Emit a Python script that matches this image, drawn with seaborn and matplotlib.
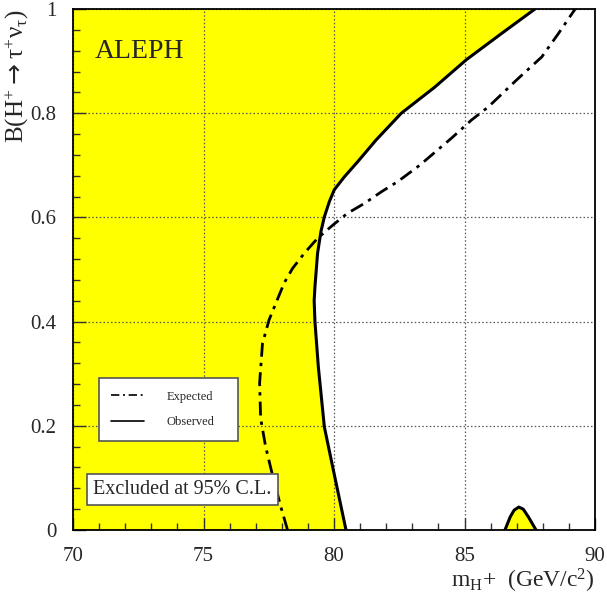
import numpy as np
import pandas as pd
import matplotlib
matplotlib.use("Agg")
import matplotlib.pyplot as plt
import seaborn as sns
from matplotlib.ticker import MultipleLocator, FixedLocator, FixedFormatter

# ---- data ----
obs_mass = [80.46, 80.27, 79.95, 79.63, 79.40, 79.27, 79.24, 79.27, 79.37, 79.50,
            79.63, 79.82, 80.01, 80.40, 80.91, 81.62, 82.58, 83.86, 85.08, 86.42, 87.70]
obs_br = [0.000, 0.045, 0.121, 0.198, 0.313, 0.400, 0.440, 0.467, 0.531, 0.573,
          0.601, 0.630, 0.653, 0.678, 0.707, 0.749, 0.800, 0.850, 0.903, 0.953, 1.000]

exp_mass = [78.22, 77.96, 77.64, 77.38, 77.19, 77.15, 77.26, 77.51, 77.77, 78.09,
            78.41, 78.86, 79.37, 79.95, 80.52, 81.17, 81.81, 82.45, 83.28, 84.50,
            85.27, 85.91, 87.00, 87.96, 88.60, 89.24]
exp_br = [0.000, 0.045, 0.106, 0.160, 0.214, 0.282, 0.358, 0.403, 0.435, 0.474,
          0.502, 0.531, 0.560, 0.585, 0.608, 0.627, 0.649, 0.669, 0.700, 0.752,
          0.787, 0.812, 0.864, 0.908, 0.953, 1.000]

island_mass = [86.55, 86.75, 86.90, 87.08, 87.25, 87.45, 87.74]
island_br = [0.000, 0.025, 0.038, 0.044, 0.040, 0.025, 0.000]

x_ticks = [70, 75, 80, 85, 90]
x_tick_labels = ["70", "75", "80", "85", "90"]
y_ticks = [0, 0.2, 0.4, 0.6, 0.8, 1.0]
y_tick_labels = ["0", "0.2", "0.4", "0.6", "0.8", "1"]

obs_df = pd.DataFrame({"mass": obs_mass, "br": obs_br})
exp_df = pd.DataFrame({"mass": exp_mass, "br": exp_br})
isl_df = pd.DataFrame({"mass": island_mass, "br": island_br})

# ---- style ----
sns.set_style("ticks")
plt.rcParams["font.family"] = ["Liberation Serif", "DejaVu Serif"]
plt.rcParams["mathtext.fontset"] = "custom"
plt.rcParams["mathtext.rm"] = "Liberation Serif"
plt.rcParams["mathtext.it"] = "Liberation Serif:italic"
plt.rcParams["mathtext.bf"] = "Liberation Serif:bold"
plt.rcParams["mathtext.sf"] = "DejaVu Sans"

YELLOW = "#FFFF00"

fig = plt.figure(figsize=(6.07, 5.97), dpi=100)
ax = fig.add_axes([73 / 607, 1 - 530 / 597, 522 / 607, 521 / 597])

# excluded regions
ax.fill_betweenx(obs_df["br"], 70, obs_df["mass"], color=YELLOW, lw=0, zorder=1)
ax.fill_between(isl_df["mass"], 0, isl_df["br"], color=YELLOW, lw=0, zorder=1)

# curves
sns.lineplot(data=exp_df, x="mass", y="br", sort=False, estimator=None, ax=ax,
             color="black", lw=2.0, linestyle=(0, (5, 2.2, 1.2, 2.2)),
             label="Expected", zorder=3)
sns.lineplot(data=obs_df, x="mass", y="br", sort=False, estimator=None, ax=ax,
             color="black", lw=2.2, label="Observed", zorder=3)
sns.lineplot(data=isl_df, x="mass", y="br", sort=False, estimator=None, ax=ax,
             color="black", lw=2.2, zorder=3)

ax.set_xlim(70, 90)
ax.set_ylim(0, 1)

ax.xaxis.set_major_locator(FixedLocator(x_ticks))
ax.xaxis.set_major_formatter(FixedFormatter(x_tick_labels))
ax.yaxis.set_major_locator(FixedLocator(y_ticks))
ax.yaxis.set_major_formatter(FixedFormatter(y_tick_labels))
ax.xaxis.set_minor_locator(MultipleLocator(1))
ax.yaxis.set_minor_locator(MultipleLocator(0.04))
ax.tick_params(which="both", direction="in", top=False, right=False,
               labelsize=15, width=1.0, color="#333333")
ax.tick_params(which="major", length=9, pad=12)
ax.tick_params(which="minor", length=5)

for s in ax.spines.values():
    s.set_linewidth(1.3)
    s.set_color("black")
    s.set_zorder(4)

ax.set_axisbelow(False)
ax.grid(True, which="major", color="#555555", linestyle=(0, (1.2, 1.8)), lw=0.9)

ax.set_xlabel(r"m$_{\mathrm{H}}$+  (GeV/c$^{2}$)", fontsize=17, loc="right", labelpad=1)
ax.set_ylabel(r"B(H$^{+}\;\mathsf{→}\;$τ$^{+}$ν$_{\mathrm{τ}}$)", fontsize=18, loc="top")
ax.yaxis.set_label_coords(-0.08, 1.0)

ax.text(0.042, 0.919, "ALEPH", transform=ax.transAxes, fontsize=20,
        ha="left", va="center", zorder=5)

ax.text(0.21, 0.077, "Excluded at 95% C.L.", transform=ax.transAxes, fontsize=14.5,
        ha="center", va="center", zorder=5,
        bbox=dict(boxstyle="square,pad=0.3", fc="white", ec="#555555", lw=1.2))

leg = ax.legend(loc="lower left", bbox_to_anchor=(0.0498, 0.171, 0.266, 0.119),
                mode="expand", fontsize=9, frameon=True, fancybox=False,
                borderpad=1.0, labelspacing=1.1, handlelength=2.6, handletextpad=1.8,
                borderaxespad=0)
leg.get_frame().set_edgecolor("#555555")
leg.get_frame().set_linewidth(1.2)
leg.get_frame().set_facecolor("white")
leg.get_frame().set_alpha(1)
leg.set_zorder(5)
for lh in leg.get_lines():
    lh.set_linewidth(1.2)

fig.savefig("out.png", dpi=100)
